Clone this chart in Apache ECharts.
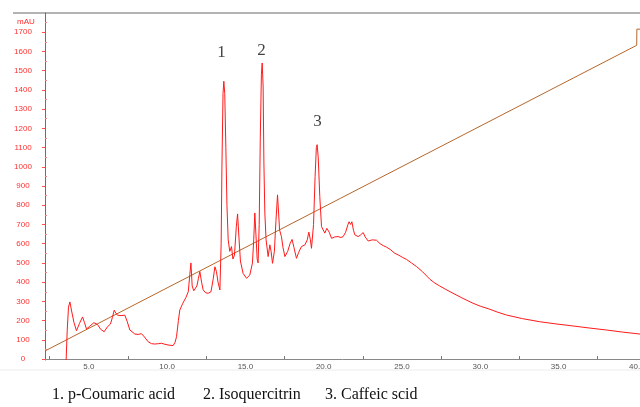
<!DOCTYPE html>
<html>
<head>
<meta charset="utf-8">
<title>HPLC chromatogram</title>
<script src="https://cdn.jsdelivr.net/npm/echarts@6/dist/echarts.min.js"></script>
<style>
  html, body { margin: 0; padding: 0; background: #fff; }
  #chart { width: 640px; height: 407px; }
</style>
</head>
<body>
<div id="chart"></div>
<script>
// retention time (min) and absorbance (mAU)
const times = [3.55, 3.62, 3.70, 3.79, 3.9, 4.05, 4.21, 4.4, 4.6, 4.72, 4.85, 5.05, 5.32, 5.55, 5.75, 5.98,
  6.19, 6.38, 6.5, 6.62, 6.72, 6.83, 7.05, 7.3, 7.45, 7.62, 7.94, 8.15, 8.36, 8.55, 8.79, 9.0, 9.21, 9.45,
  9.64, 9.85, 10.06, 10.38, 10.5, 10.6, 10.72, 10.81, 11.0, 11.2, 11.35, 11.45, 11.52, 11.6, 11.7, 11.77,
  11.9, 12.0, 12.09, 12.2, 12.3, 12.45, 12.62, 12.8, 12.95, 13.05, 13.15, 13.25, 13.37, 13.45, 13.5, 13.57,
  13.62, 13.68, 13.75, 13.82, 13.9, 14.0, 14.11, 14.2, 14.3, 14.42, 14.5, 14.58, 14.68, 14.85, 15.07, 15.28,
  15.45, 15.53, 15.6, 15.67, 15.75, 15.81, 15.88, 15.95, 16.02, 16.07, 16.13, 16.18, 16.24, 16.32, 16.45,
  16.56, 16.64, 16.73, 16.85, 16.95, 17.05, 17.12, 17.18, 17.3, 17.4, 17.52, 17.7, 17.85, 17.98, 18.1, 18.26,
  18.4, 18.58, 18.8, 18.95, 19.05, 19.15, 19.22, 19.35, 19.45, 19.53, 19.58, 19.65, 19.75, 19.86, 20.07,
  20.2, 20.35, 20.5, 20.7, 20.92, 21.1, 21.24, 21.4, 21.55, 21.62, 21.72, 21.8, 21.9, 21.99, 22.2, 22.35,
  22.52, 22.65, 22.84, 23.1, 23.37, 23.6, 23.8, 24.01, 24.25, 24.54, 24.8, 25.05, 25.29, 25.6, 25.93, 26.3,
  26.6, 26.78, 27.1, 27.41, 27.8, 28.26, 28.9, 29.54, 30.0, 30.61, 31.1, 31.67, 32.7, 33.8, 34.9, 35.93,
  37.0, 38.06, 39.1, 40.2];
const absorbance = [-5, 150, 270, 297, 250, 190, 147, 185, 219, 190, 156, 170, 189, 180, 155, 142,
  168, 182, 215, 254, 240, 228, 226, 228, 195, 151, 130, 128, 132, 115, 90, 80, 78, 80,
  82, 77, 73, 70, 85, 116, 200, 255, 290, 320, 350, 440, 500, 380, 355, 350,
  380, 420, 455, 400, 360, 345, 342, 350, 420, 480, 455, 400, 359, 600, 1000, 1380,
  1445, 1380, 1100, 800, 620, 560, 585, 520, 540, 690, 755, 640, 510, 446, 420, 437,
  500, 620, 760, 650, 520, 500, 700, 1150, 1480, 1540, 1420, 1020, 760, 620, 533,
  594, 560, 498, 560, 720, 854, 760, 672, 637, 580, 533, 560, 600, 622, 580, 524,
  555, 585, 594, 620, 660, 620, 576, 700, 950, 1100, 1115, 1050, 845, 689, 655,
  680, 660, 628, 635, 637, 632, 637, 660, 700, 714, 700, 714, 670, 646, 637, 645,
  658, 635, 614, 620, 618, 600, 590, 582, 570, 550, 540, 528, 518, 500, 481, 455,
  430, 415, 395, 380, 362, 342, 315, 290, 275, 259, 244, 229, 210, 194, 182, 172,
  161, 151, 140, 130];

// gradient program line
const gradientTimes = [2.2, 39.99, 40.0, 40.2];
const gradientValues = [42, 1632, 1716, 1716];

// peak numbers above the trace
const peakNames = ['1', '2', '3'];
const peakLabelTimes = [13.47, 16.03, 19.6];
const peakLabelValues = [1595, 1604, 1236];

const legendItems = ['1. p-Coumaric acid', '2. Isoquercitrin', '3. Caffeic scid'];

const xLabelValues = [5, 10, 15, 20, 25, 30, 35, 40];
const xTickValues = [2.5, 7.5, 12.5, 17.5, 22.5, 27.5, 32.5, 37.5];
const yLabelValues = [0, 100, 200, 300, 400, 500, 600, 700, 800, 900, 1000, 1100, 1200, 1300, 1400, 1500, 1600, 1700];
const yMinorValues = [50, 150, 250, 350, 450, 550, 650, 750, 850, 950, 1050, 1150, 1250, 1350, 1450, 1550, 1650, 1750];

const chart = echarts.init(document.getElementById('chart'));

const trace = times.map((t, i) => [t, absorbance[i]]);
const gradient = gradientTimes.map((t, i) => [t, gradientValues[i]]);
const peaks = peakNames.map((n, i) => ({ name: n, value: [peakLabelTimes[i], peakLabelValues[i]] }));

const option = {
  animation: false,
  backgroundColor: '#fff',
  title: {
    text: 'mAU',
    left: 12,
    top: 13,
    textStyle: { color: '#ff2a2a', fontSize: 8, fontWeight: 'normal', fontFamily: 'Liberation Sans, Arial' }
  },
  grid: { left: 45, right: 0, top: 13, bottom: 47, containLabel: false, outerBoundsMode: 'none' },
  xAxis: {
    type: 'value',
    min: 2.2,
    max: 40.2,
    axisLine: { lineStyle: { color: '#888', width: 1 } },
    axisTick: { inside: true, length: 3, customValues: xTickValues, lineStyle: { color: '#777' } },
    axisLabel: {
      customValues: xLabelValues,
      formatter: v => v.toFixed(1),
      color: '#555',
      fontSize: 8,
      margin: 3,
      fontFamily: 'Liberation Sans, Arial'
    },
    splitLine: { show: false }
  },
  yAxis: [
    {
      type: 'value',
      min: -5,
      max: 1800,
      axisLine: { show: true, lineStyle: { color: '#ff3030', width: 1 } },
      axisTick: { show: true, length: 3, customValues: yLabelValues, lineStyle: { color: '#ff5050' } },
      axisLabel: {
        customValues: yLabelValues,
        formatter: v => String(v),
        color: '#ff3030',
        fontSize: 8,
        align: 'center',
        margin: 22,
        fontFamily: 'Liberation Sans, Arial'
      },
      splitLine: { show: false }
    },
    {
      type: 'value',
      position: 'left',
      min: -5,
      max: 1800,
      axisLine: { show: false },
      axisTick: { show: true, inside: true, length: 2, customValues: yMinorValues, lineStyle: { color: '#ff8080' } },
      axisLabel: { show: false },
      splitLine: { show: false }
    }
  ],
  series: [
    {
      name: 'Gradient',
      type: 'line',
      data: gradient,
      symbol: 'none',
      lineStyle: { color: '#b5662b', width: 1 },
      z: 2
    },
    {
      name: 'Absorbance',
      type: 'line',
      data: trace,
      symbol: 'none',
      lineStyle: { color: '#ff1a1a', width: 1 },
      z: 3
    },
    {
      name: 'Peaks',
      type: 'scatter',
      data: peaks,
      symbolSize: 1,
      itemStyle: { color: 'transparent' },
      label: {
        show: true,
        position: 'inside',
        formatter: '{b}',
        color: '#111',
        fontSize: 17,
        fontFamily: 'Liberation Serif, Times New Roman, serif'
      }
    }
  ],
  graphic: [
    { type: 'line', shape: { x1: 13, y1: 13, x2: 640, y2: 13 }, style: { stroke: '#9a9a9a', lineWidth: 1.5 } },
    { type: 'line', shape: { x1: 0, y1: 370, x2: 640, y2: 370 }, style: { stroke: '#ececec', lineWidth: 1 } },
    ...legendItems.map((txt, i) => ({
      type: 'text',
      left: [52, 203, 325][i],
      top: 387,
      style: { text: txt, fill: '#111', font: '16px "Liberation Serif", "Times New Roman", serif' }
    }))
  ]
};

chart.setOption(option);
</script>
</body>
</html>
